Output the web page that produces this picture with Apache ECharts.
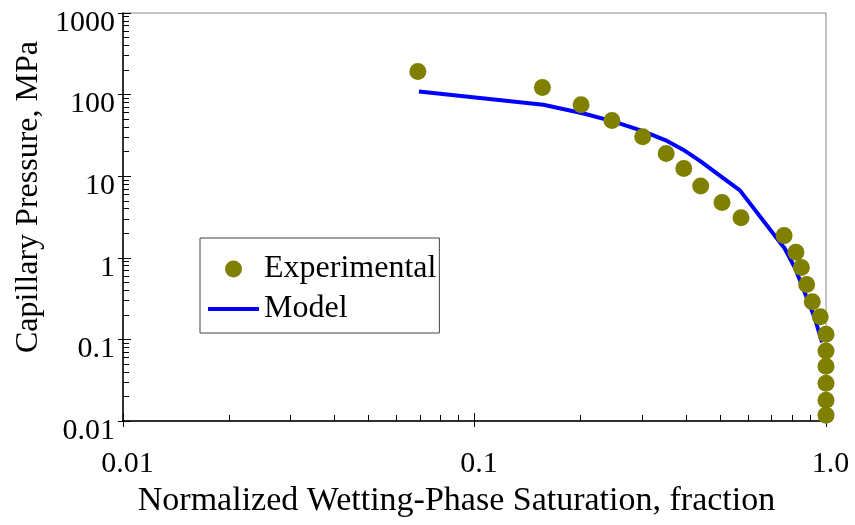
<!DOCTYPE html>
<html>
<head>
<meta charset="utf-8">
<script src="https://cdn.jsdelivr.net/npm/echarts@6/dist/echarts.min.js"></script>
<style>html,body{margin:0;padding:0;background:#fff}#c{width:855px;height:525px}</style>
</head>
<body>
<div id="c"></div>
<script>
// Experimental data: [normalized wetting-phase saturation, capillary pressure MPa]
var expSat = [0.069, 0.156, 0.201, 0.246, 0.301, 0.351, 0.394, 0.440, 0.506, 0.573, 0.760, 0.821, 0.851, 0.881, 0.914, 0.963, 1.0, 1.0, 1.0, 1.0, 1.0, 1.0];
var expPc  = [192, 122, 75, 48, 30.5, 19, 12.4, 7.6, 4.75, 3.1, 1.87, 1.17, 0.76, 0.47, 0.29, 0.19, 0.116, 0.072, 0.047, 0.029, 0.018, 0.0118];
// Model curve
var modSat = [0.0695, 0.157, 0.203, 0.248, 0.300, 0.350, 0.391, 0.438, 0.500, 0.569, 0.763, 0.820, 0.880, 0.930, 0.975];
var modPc  = [109, 75, 59, 47, 36, 27.5, 21.3, 15.4, 10.1, 6.7, 1.3, 0.72, 0.33, 0.18, 0.092];
var xTicks = [0.01, 0.1, 1.0];
var yTicks = [0.01, 0.1, 1, 10, 100, 1000];

var FONT = 'Liberation Serif';
var chart = echarts.init(document.getElementById('c'), null, {renderer: 'canvas'});

function zip(a, b) { return a.map(function (v, i) { return [v, b[i]]; }); }

var xMin = xTicks[0], xMax = xTicks[xTicks.length - 1];
var yMin = yTicks[0], yMax = yTicks[yTicks.length - 1];

chart.setOption({
  backgroundColor: '#ffffff',
  animation: false,
  textStyle: {fontFamily: FONT, color: '#000'},
  grid: {left: 123, right: 29, top: 13, bottom: 104, show: true, borderColor: '#888', borderWidth: 1},
  legend: {
    orient: 'vertical', left: 200, top: 238,
    backgroundColor: '#fff', borderColor: '#444', borderWidth: 1,
    padding: [15, 3, 8, 8], itemGap: 8,
    itemWidth: 51, itemHeight: 17,
    textStyle: {fontFamily: FONT, fontSize: 32, color: '#000'},
    data: [
      {name: 'Experimental', icon: 'circle'},
      {name: 'Model', icon: 'path://M0,0H51V4H0Z'}
    ]
  },
  xAxis: [{
    type: 'log', logBase: 10, min: xMin, max: xMax,
    name: 'Normalized Wetting-Phase Saturation, fraction',
    nameLocation: 'middle', nameGap: 62,
    nameTextStyle: {fontFamily: FONT, fontSize: 34, color: '#000', padding: [0, 36, 0, 0]},
    axisLine: {lineStyle: {color: '#000', width: 1.5}},
    axisTick: {inside: true, length: 8, lineStyle: {color: '#000'}},
    minorTick: {show: true, splitNumber: 9, length: 6, lineStyle: {color: '#000'}},
    splitLine: {show: false},
    axisLabel: {fontFamily: FONT, fontSize: 30, color: '#000', margin: 28, padding: [0, 0, 0, 9],
      formatter: function (v) { return v === 1 ? '1.0' : String(v); }}
  }, {
    type: 'log', logBase: 10, min: xMin, max: xMax, position: 'bottom',
    axisLine: {show: false}, axisLabel: {show: false}, splitLine: {show: false},
    axisTick: {show: true, inside: false, length: 6, lineStyle: {color: '#000'}}
  }],
  yAxis: [{
    type: 'log', logBase: 10, min: yMin, max: yMax,
    name: 'Capillary Pressure, MPa',
    nameLocation: 'middle', nameGap: 78,
    nameTextStyle: {fontFamily: FONT, fontSize: 32, color: '#000', padding: [0, 0, 0, 40]},
    axisLine: {lineStyle: {color: '#000', width: 1.5}},
    axisTick: {inside: true, length: 8, lineStyle: {color: '#000'}},
    minorTick: {show: true, splitNumber: 9, length: 6, lineStyle: {color: '#000'}},
    splitLine: {show: false},
    axisLabel: {fontFamily: FONT, fontSize: 30, color: '#000', margin: 8,
      verticalAlign: 'top', lineHeight: 20,
      formatter: function (v) { return String(v); }}
  }, {
    type: 'log', logBase: 10, min: yMin, max: yMax, position: 'left',
    axisLine: {show: false}, axisLabel: {show: false}, splitLine: {show: false},
    axisTick: {show: true, inside: false, length: 5, lineStyle: {color: '#000'}}
  }],
  series: [
    {
      name: 'Model', type: 'line', data: zip(modSat, modPc),
      showSymbol: false, symbol: 'none', smooth: false,
      lineStyle: {color: '#0000ff', width: 4}, itemStyle: {color: '#0000ff'}, z: 2
    },
    {
      name: 'Experimental', type: 'scatter', data: zip(expSat, expPc),
      symbol: 'circle', symbolSize: 17, clip: false,
      itemStyle: {color: '#808000', opacity: 1}, z: 3
    }
  ]
});
</script>
</body>
</html>
